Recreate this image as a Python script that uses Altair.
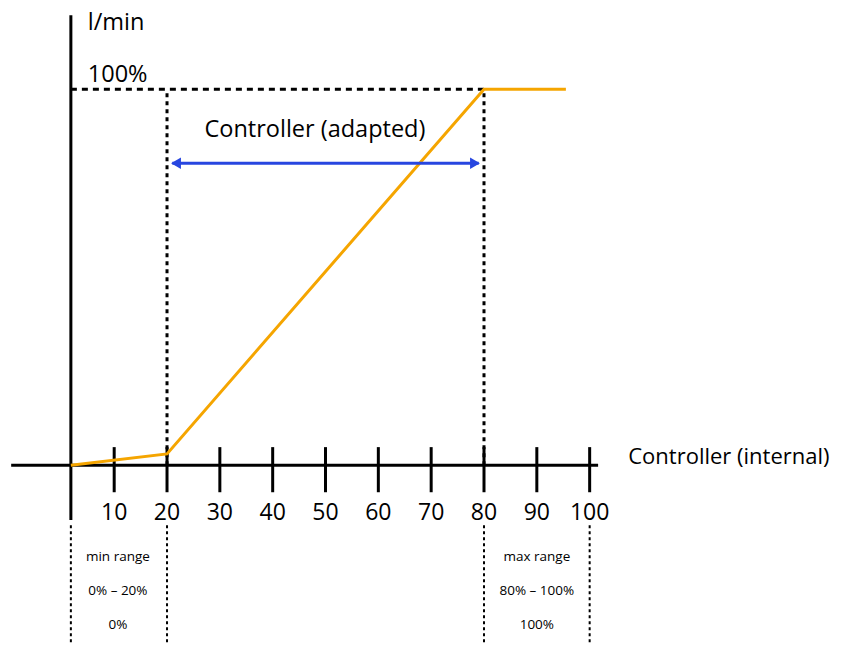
import altair as alt
import pandas as pd

# ---- data ----
tick_values = [10, 20, 30, 40, 50, 60, 70, 80, 90, 100]
curve_x = [1.8, 20, 80, 95.5]
curve_y = [0, 3, 100, 100]
origin_x = 1.8
full_flow = 100

min_texts = ["min range", "0% – 20%", "0%"]
max_texts = ["max range", "80% – 100%", "100%"]

FONT = "Open Sans"
ORANGE = "#F5A500"
BLUE = "#2746E0"

W = 832
xs = alt.Scale(domain=[-10.1, -10.1 + W / 5.283], nice=False, zero=False)
ys = alt.Scale(domain=[-47.3, 121.6], nice=False, zero=False)


def X(f):
    return alt.X(f, type="quantitative", scale=xs, axis=None)


def Y(f):
    return alt.Y(f, type="quantitative", scale=ys, axis=None)


def seg(df, **kw):
    return alt.Chart(df).mark_rule(**kw).encode(
        x=X("x"), x2="x2", y=Y("y"), y2="y2")


# axes
axes_df = pd.DataFrame({
    "x": [-9.5, origin_x], "x2": [101.6, origin_x],
    "y": [0, -14.6], "y2": [0, 119.7]})
axes = seg(axes_df, color="black", strokeWidth=3)

ticks_df = pd.DataFrame({"x": tick_values, "x2": tick_values,
                         "y": [-7.2] * len(tick_values), "y2": [4.8] * len(tick_values)})
ticks = seg(ticks_df, color="black", strokeWidth=3)

tick_labels = alt.Chart(pd.DataFrame({"x": tick_values, "y": [-12.8] * len(tick_values),
                                      "t": [str(v) for v in tick_values]})).mark_text(
    font=FONT, fontSize=23, color="black", align="center", baseline="middle"
).encode(x=X("x"), y=Y("y"), text="t:N")

# dashed guides
hdash = seg(pd.DataFrame({"x": [origin_x], "x2": [80], "y": [full_flow], "y2": [full_flow]}),
            color="black", strokeWidth=3, strokeDash=[6, 5])
vdots = seg(pd.DataFrame({"x": [20, 80], "x2": [20, 80], "y": [0, 0],
                          "y2": [full_flow, full_flow]}),
            color="black", strokeWidth=3, strokeDash=[4, 4])
low_x = [origin_x, 20, 80, 100]
ldots = seg(pd.DataFrame({"x": low_x, "x2": low_x, "y": [-16] * 4, "y2": [-47.3] * 4}),
            color="black", strokeWidth=2, strokeDash=[3, 3])

# curve
curve = alt.Chart(pd.DataFrame({"x": curve_x, "y": curve_y, "o": range(4)})).mark_line(
    color=ORANGE, strokeWidth=3).encode(x=X("x"), y=Y("y"), order="o:Q")

# blue arrow
arrow_line = seg(pd.DataFrame({"x": [21], "x2": [79], "y": [80.3], "y2": [80.3]}),
                 color=BLUE, strokeWidth=3)
heads = alt.Chart(pd.DataFrame({"x": [21.7, 78.3], "y": [80.3, 80.3],
                                "s": ["triangle-left", "triangle-right"]})).mark_point(
    filled=True, color=BLUE, opacity=1, size=130).encode(
    x=X("x"), y=Y("y"), shape=alt.Shape("s:N", scale=None))

# texts
top_text = pd.DataFrame({
    "x": [5.0, 5.0], "y": [117.6, 103.7], "t": ["l/min", "100%"]})
top = alt.Chart(top_text).mark_text(
    font=FONT, fontSize=23.5, color="black", align="left", baseline="middle"
).encode(x=X("x"), y=Y("y"), text="t:N")

internal = alt.Chart(pd.DataFrame({"x": [107.3], "y": [2.1], "t": ["Controller (internal)"]})).mark_text(
    font=FONT, fontSize=22, color="black", align="left", baseline="middle"
).encode(x=X("x"), y=Y("y"), text="t:N")

adapted = alt.Chart(pd.DataFrame({"x": [48.0], "y": [89.1], "t": ["Controller (adapted)"]})).mark_text(
    font=FONT, fontSize=23.5, color="black", align="center", baseline="middle"
).encode(x=X("x"), y=Y("y"), text="t:N")

small_df = pd.DataFrame({
    "x": [10.7] * 3 + [90.0] * 3,
    "y": [-24.5, -33.5, -42.6] * 2,
    "t": min_texts + max_texts})
small = alt.Chart(small_df).mark_text(
    font=FONT, fontSize=13.5, color="black", align="center", baseline="middle"
).encode(x=X("x"), y=Y("y"), text="t:N")

chart = alt.layer(
    hdash, vdots, ldots, axes, ticks, curve, arrow_line, heads,
    tick_labels, top, internal, adapted, small
).properties(
    width=W, height=635, padding=0, background="white",
    autosize=alt.AutoSizeParams(type="none")
).configure_view(strokeWidth=0)

chart.save("out.html", embed_options={"renderer": "svg", "actions": False})
